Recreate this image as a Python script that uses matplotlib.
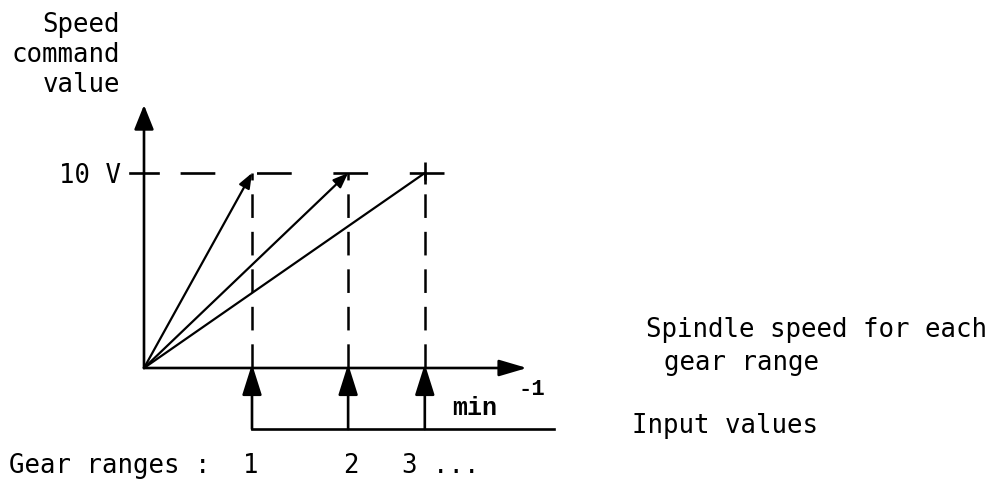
import matplotlib
matplotlib.use("Agg")
import matplotlib.pyplot as plt

# Kennlinien: Drehzahl je Getriebestufe (relativ zu Stufe 1) bei 10 V Sollwert
gear_speed = [1.0, 1.89, 2.60]
command_max = 10.0
gear_labels = ["1", "2", "3 ..."]
arrow_on_line = [True, True, False]

W, H = 997, 483
plt.rcParams['lines.scale_dashes'] = False
MONO = 'DejaVu Sans Mono'

fig = plt.figure(figsize=(W / 100, H / 100), dpi=100)
ax = fig.add_axes([0, 0, 1, 1])
ax.axis('off')

# pixel layout: origin at (144, 368), 108 px per speed unit, 19.5 px per volt
px_x, px_y = 108.0, 19.5
ox, oy = 144.0, 368.0
ax.set_xlim(-ox / px_x, (W - ox) / px_x)
ax.set_ylim(-(H - oy) / px_y, oy / px_y)


def put(x, y, s, **kw):
    fig.text(x / W, 1 - y / H, s, **kw)


def arrow(x0, y0, x1, y1, hl, hw, lw=1.9):
    ax.annotate('', xy=(x1, y1), xytext=(x0, y0),
                arrowprops=dict(arrowstyle='-|>,head_length=%g,head_width=%g' % (hl, hw),
                                mutation_scale=10, lw=lw, color='black',
                                shrinkA=0, shrinkB=0))


# axes with arrows
arrow(0, 0, 0, (oy - 105) / px_y, 1.5, 0.6)
arrow(0, 0, (527 - ox) / px_x, 0, 1.7, 0.5)

# 10 V level, dashed, with tick on y axis
ax.plot([-14 / px_x, 14 / px_x], [command_max, command_max], color='black', lw=1.9)
ax.plot([0, gear_speed[-1] + 37 / px_x], [command_max, command_max], color='black', lw=1.9,
        linestyle=(29, (25, 30)))

# command value lines from origin
for g, has_arrow in zip(gear_speed, arrow_on_line):
    if has_arrow:
        arrow(0, 0, g, command_max, 0.9, 0.35, lw=1.6)
    else:
        ax.plot([0, g], [0, command_max], color='black', lw=1.6)
ax.plot([gear_speed[-1]], [command_max], marker='|', ms=16, mew=1.9, color='black')

# vertical dashed drop lines
for g in gear_speed:
    ax.plot([g, g], [command_max, 0], color='black', lw=1.8, linestyle=(12, (17, 10)))

# input values: arrows from the input line up to the speed axis
y_in = -(429 - oy) / px_y
for g in gear_speed:
    arrow(g, y_in, g, 4 / px_y, 1.9, 0.6)
ax.plot([gear_speed[0], (554 - ox) / px_x], [y_in, y_in], color='black', lw=1.9)

# texts
fs = 18.5
for i, s in enumerate(["Speed", "command", "value"]):
    put(120, 32 + 30 * i, s, ha='right', va='baseline', family=MONO, fontsize=fs)
put(121, 183, "10 V", ha='right', va='baseline', family=MONO, fontsize=fs)
put(646, 337, "Spindle speed for each", ha='left', va='baseline', family=MONO, fontsize=fs)
put(664, 370, "gear range", ha='left', va='baseline', family=MONO, fontsize=fs)
put(632, 433, "Input values", ha='left', va='baseline', family=MONO, fontsize=fs)
put(9, 473, "Gear ranges :", ha='left', va='baseline', family=MONO, fontsize=fs)
label_x = [251, 351, 402]
label_ha = ['center', 'center', 'left']
for lx, s, ha in zip(label_x, gear_labels, label_ha):
    put(lx, 473, s, ha=ha, va='baseline', family=MONO, fontsize=fs)
put(518, 395, "-1", ha='left', va='baseline', family='Liberation Mono',
    fontsize=16, fontweight='bold')
put(452, 415, "min", ha='left', va='baseline', family='Liberation Mono',
    fontsize=18, fontweight='bold')

fig.savefig('out.png', dpi=100, facecolor='white')
